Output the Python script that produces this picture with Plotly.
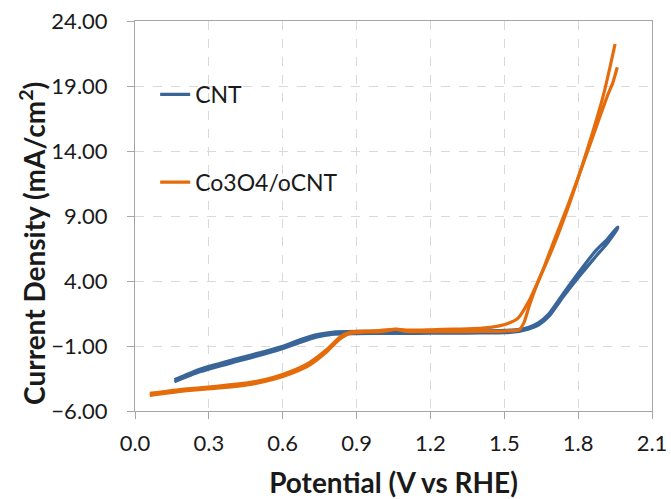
import plotly.graph_objects as go

# Cyclic voltammograms: current density (mA/cm^2) vs potential (V vs RHE)

# CNT, anodic sweep
cnt_fwd_v = [0.16, 0.26, 0.40, 0.53, 0.60, 0.67, 0.74, 0.80, 0.90, 1.00, 1.10, 1.20,
             1.30, 1.40, 1.50, 1.56, 1.60, 1.64, 1.68, 1.74, 1.80, 1.87, 1.92, 1.96]
cnt_fwd_j = [-3.60, -2.80, -2.05, -1.40, -1.02, -0.52, -0.12, 0.06, 0.12, 0.12, 0.14, 0.14,
             0.15, 0.16, 0.20, 0.28, 0.45, 0.80, 1.45, 3.05, 4.60, 6.30, 7.25, 8.15]
# CNT, cathodic sweep
cnt_rev_v = [1.96, 1.92, 1.87, 1.80, 1.74, 1.68, 1.64, 1.60, 1.56, 1.50, 1.40, 1.30,
             1.20, 1.10, 1.00, 0.90, 0.80, 0.74, 0.67, 0.60, 0.53, 0.40, 0.26, 0.16]
cnt_rev_j = [8.05, 6.95, 5.85, 4.25, 2.80, 1.25, 0.62, 0.30, 0.12, 0.02, 0.00, -0.02,
             -0.02, -0.03, -0.03, -0.05, -0.10, -0.30, -0.72, -1.20, -1.60, -2.25, -3.00, -3.75]

# Co3O4/oCNT, first sweep
co_a_v = [0.06, 0.20, 0.33, 0.47, 0.56, 0.64, 0.71, 0.78, 0.83, 0.87, 0.94, 1.00, 1.06,
          1.10, 1.20, 1.30, 1.40, 1.50, 1.56, 1.58, 1.60, 1.63, 1.66, 1.70, 1.76, 1.82,
          1.88, 1.92, 1.940, 1.959]
co_a_j = [-4.80, -4.45, -4.25, -3.95, -3.58, -3.08, -2.45, -1.42, -0.50, -0.05, 0.08, 0.10,
          0.28, 0.12, 0.10, 0.10, 0.12, 0.15, 0.25, 0.80, 2.00, 3.60, 5.00, 7.00, 9.90, 13.00,
          16.20, 18.30, 19.20, 20.44]
# Co3O4/oCNT, second sweep
co_b_v = [1.950, 1.93, 1.90, 1.86, 1.81, 1.76, 1.70, 1.65, 1.604, 1.556, 1.520, 1.480,
          1.40, 1.30, 1.20, 1.10, 1.06, 1.00, 0.94, 0.87, 0.83, 0.78, 0.71, 0.64, 0.56,
          0.47, 0.33, 0.20, 0.06]
co_b_j = [22.23, 20.50, 18.10, 15.50, 12.50, 9.70, 6.70, 4.50, 2.60, 1.15, 0.77, 0.55,
          0.35, 0.30, 0.25, 0.22, 0.30, 0.20, 0.15, 0.05, -0.35, -1.25, -2.25, -2.90, -3.42,
          -3.80, -4.10, -4.32, -4.65]

x_ticks = [0.0, 0.3, 0.6, 0.9, 1.2, 1.5, 1.8, 2.1]
y_ticks = [-6, -1, 4, 9, 14, 19, 24]

BLUE = "#3A6598"
ORANGE = "#E46C0A"
AXIS = "#A6A6A6"
GRID = "#D9D9D9"
TEXT = "#1a1a1a"
FONT = "Lato, 'Noto Sans', sans-serif"

fig = go.Figure()
fig.add_trace(go.Scatter(
    x=cnt_fwd_v + cnt_rev_v, y=cnt_fwd_j + cnt_rev_j,
    mode="lines", name="CNT", legendgroup="cnt",
    line=dict(color=BLUE, width=3.2, shape="spline", smoothing=0.5),
    hoverinfo="skip",
))
fig.add_trace(go.Scatter(
    x=co_a_v + [None] + co_b_v, y=co_a_j + [None] + co_b_j,
    mode="lines", name="Co3O4/oCNT", legendgroup="co",
    line=dict(color=ORANGE, width=3.2, shape="spline", smoothing=0.5),
    connectgaps=False, hoverinfo="skip",
))

axis_common = dict(
    showline=True, linecolor=AXIS, linewidth=1, mirror=True,
    showgrid=True, gridcolor=GRID, gridwidth=1, griddash="dash",
    ticks="outside", ticklen=7, tickcolor=AXIS, tickwidth=1,
    zeroline=False, automargin=False,
    tickfont=dict(family=FONT, size=22, color=TEXT),
)

fig.update_layout(
    width=671, height=499,
    margin=dict(l=135, r=19, t=21, b=88),
    paper_bgcolor="white", plot_bgcolor="white",
    font=dict(family=FONT, color=TEXT),
    xaxis=dict(
        range=[0, 2.1], tickvals=x_ticks, tickformat=".1f",
        ticklabelstandoff=6,
        title=dict(text="<b>Potential (V vs RHE)</b>", font=dict(family=FONT, size=28, color=TEXT),
                   standoff=22),
        **axis_common,
    ),
    yaxis=dict(
        range=[-6, 24], tickvals=y_ticks, tickformat=".2f",
        ticklabelstandoff=15,
        **axis_common,
    ),
    showlegend=True,
    legend=dict(
        x=0.039, y=0.867, xanchor="left", yanchor="top",
        bgcolor="rgba(0,0,0,0)", borderwidth=0,
        font=dict(family=FONT, size=23, color=TEXT),
        traceorder="grouped", tracegroupgap=55,
        itemwidth=30,
    ),
    annotations=[dict(
        text="<b>Current Density (mA/cm<sup>2</sup>)</b>",
        xref="paper", yref="paper", x=-0.198, y=0.43,
        xanchor="center", yanchor="middle", textangle=-90, showarrow=False,
        font=dict(family=FONT, size=28, color=TEXT),
    )],
)

fig.write_html("out.html")
